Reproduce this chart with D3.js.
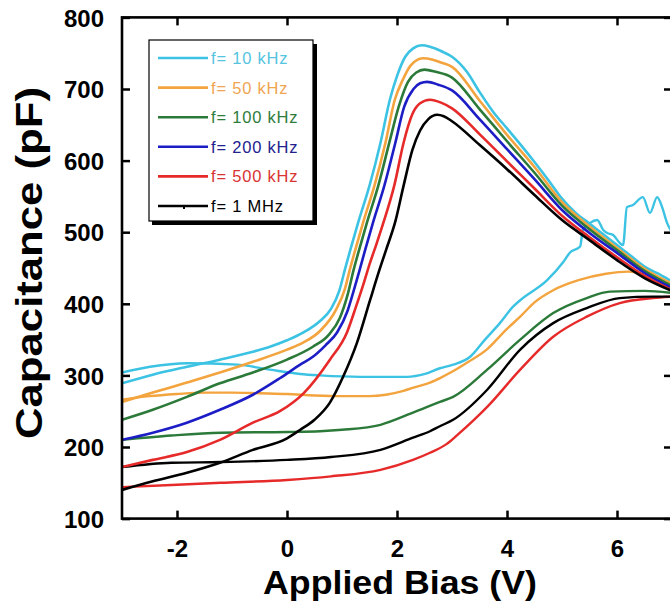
<!DOCTYPE html>
<html>
<head>
<meta charset="utf-8">
<script src="https://cdn.jsdelivr.net/npm/d3@7/dist/d3.min.js"></script>
<style>
  html, body { margin: 0; padding: 0; background: #ffffff; }
  svg { display: block; }
</style>
</head>
<body>
<script>
// C–V sweeps of the device at six measurement frequencies.
// Each frequency has a sweep that peaks near 2.5 V and a return sweep without the peak.
const frequencies = ["f= 10 kHz", "f= 50 kHz", "f= 100 kHz", "f= 200 kHz", "f= 500 kHz", "f= 1 MHz"];
const lineColors  = ["#3cc3e3", "#f3a43e", "#2b7a39", "#1d1dc6", "#e62a2a", "#000000"];
const labelColors = ["#55c4df", "#f0a552", "#2e7c3c", "#22228e", "#d83434", "#000000"];

const xTicks = [-2, 0, 2, 4, 6];
const yTicks = [100, 200, 300, 400, 500, 600, 700, 800];

// bias (V), capacitance (pF)
const peak10k = [[-3,289],[-2.44,301],[-1.82,312],[-1.22,322],[-0.62,333],[-0.31,340],[0,349],[0.3,360],[0.6,376],[0.8,393],[0.95,418],[1.05,447],[1.15,475],[1.3,515],[1.5,565],[1.7,625],[1.87,685],[2.0,718],[2.15,745],[2.3,757],[2.45,761],[2.6,759],[2.8,753],[3.0,745],[3.27,724],[3.5,696],[3.75,668],[4.0,645],[4.25,622],[4.5,598],[4.75,573],[5.0,547],[5.25,527],[5.5,512],[5.75,497],[6.0,482],[6.25,467],[6.5,452],[6.75,442],[7.0,431]];
const peak50k = [[-3,263],[-2.44,276],[-1.82,290],[-1.22,304],[-0.62,319],[0,336],[0.3,346],[0.6,362],[0.9,393],[1.05,420],[1.14,447],[1.24,475],[1.39,515],[1.59,565],[1.79,625],[1.96,685],[2.1,712],[2.25,733],[2.47,743],[2.65,741],[2.8,737],[3.0,731],[3.5,684],[4.0,636],[4.5,591],[5.0,542],[5.5,508],[6.0,478],[6.5,449],[7.0,428]];
const peak100k = [[-3,238],[-2.44,252],[-1.82,270],[-1.22,289],[-0.62,304],[0,322],[0.47,340],[0.75,356],[0.96,380],[1.1,412],[1.21,447],[1.31,475],[1.46,515],[1.66,565],[1.86,625],[2.03,675],[2.2,710],[2.35,723],[2.5,727],[2.7,724],[3.0,716],[3.5,672],[4.0,627],[4.5,583],[5.0,537],[5.5,504],[6.0,475],[6.5,446],[7.0,425]];
const peak200k = [[-3,210],[-2.44,220],[-1.82,234],[-1.22,252],[-0.62,273],[-0.13,296],[0.24,315],[0.47,326],[0.7,342],[0.91,360],[1.1,390],[1.2,415],[1.32,447],[1.42,475],[1.57,515],[1.77,565],[1.97,625],[2.13,675],[2.3,700],[2.42,708],[2.55,710],[2.75,706],[3.0,698],[3.5,658],[4.0,616],[4.5,574],[5.0,531],[5.5,499],[6.0,471],[6.5,443],[7.0,422]];
const peak500k = [[-3,172],[-2.44,182],[-1.82,193],[-1.22,210],[-0.62,234],[-0.13,250],[0.3,275],[0.78,322],[1.09,360],[1.25,395],[1.4,430],[1.5,455],[1.62,482],[1.76,515],[1.95,565],[2.12,625],[2.28,665],[2.42,680],[2.6,685],[2.8,681],[3.0,673],[3.5,637],[4.0,599],[4.5,561],[5.0,523],[5.5,493],[6.0,465],[6.5,439],[7.0,419]];
const peak1M = [[-3,140],[-2.44,152],[-1.82,164],[-1.22,178],[-0.62,196],[0,212],[0.24,224],[0.5,238],[0.78,262],[1.02,298],[1.27,345],[1.51,405],[1.65,440],[1.8,475],[1.97,515],[2.12,565],[2.28,615],[2.42,642],[2.57,658],[2.73,664],[2.85,662],[3.0,655],[3.5,622],[4.0,588],[4.5,552],[5.0,517],[5.5,489],[6.0,461],[6.5,436],[7.0,418]];

const return10k = [[-3,304],[-2.49,312],[-1.82,317],[-0.91,315],[-0.31,308],[0.24,302],[0.6,300],[1.33,298],[2.18,298],[2.51,302],[2.78,310],[3.02,315],[3.33,326],[3.6,350],[3.87,373],[4.11,396],[4.24,405],[4.73,433],[5.02,458],[5.15,472],[5.33,480],[5.38,503],[5.51,513],[5.64,517],[5.75,503],[5.82,499],[5.93,496],[6.05,485],[6.11,482],[6.18,535],[6.29,538],[6.47,549],[6.6,527],[6.73,549],[6.82,535],[6.91,513],[7.0,500]];
const return50k = [[-3,266],[-2.5,271],[-2,274],[-1.5,276],[-1,276],[-0.5,275],[0,274],[0.5,272],[1,271],[1.5,271],[1.8,273],[2.1,278],[2.3,283],[2.6,290],[2.8,297],[3.0,305],[3.3,319],[3.63,336],[4.0,365],[4.24,382],[4.5,402],[4.84,419],[5.3,433],[5.8,442],[6.2,445],[6.5,441],[6.75,433],[7.0,420]];
const return100k = [[-3,210],[-2.1,216],[-1.2,220],[0,221],[0.6,222],[1.0,224],[1.7,231],[2.29,248],[2.78,263],[3.02,270],[3.64,308],[4.24,350],[4.84,387],[5.45,408],[5.87,417],[6.5,418],[7.0,415]];
const return500k = [[-3,144],[-2.1,147],[-1.2,150],[0,154],[0.8,159],[1.7,168],[2.29,182],[2.6,192],[2.9,204],[3.1,217],[3.64,256],[4.24,308],[4.84,354],[5.45,382],[6.05,401],[6.65,408],[7.0,410]];
const return1M = [[-3,172],[-2.1,178],[-1.2,179],[0,182],[0.8,186],[1.7,196],[2.29,213],[2.6,222],[2.78,229],[3.02,238],[3.64,280],[4.24,336],[4.84,373],[5.45,394],[6.05,408],[6.65,410],[7.0,410]];

const peakSweeps   = [peak10k, peak50k, peak100k, peak200k, peak500k, peak1M];
const returnSweeps = [return10k, return50k, return100k, null, return500k, return1M];

const W = 670, H = 605;
const svg = d3.select("body").append("svg").attr("width", W).attr("height", H);

const x = d3.scaleLinear().domain([-3, 7]).range([122, 672]);
const y = d3.scaleLinear().domain([100, 800]).range([518.6, 17.4]);

const line = d3.line()
  .x(d => x(d[0]))
  .y(d => y(d[1]))
  .curve(d3.curveMonotoneX);

const plot = svg.append("g");
plot.append("clipPath").attr("id", "plotArea")
  .append("rect").attr("x", 122).attr("y", 17).attr("width", 550).attr("height", 502);

const curves = plot.append("g").attr("clip-path", "url(#plotArea)");
// return sweeps underneath, peaked sweeps on top
returnSweeps.forEach((s, i) => {
  if (!s) return;
  curves.append("path").datum(s)
    .attr("d", line).attr("fill", "none")
    .attr("stroke", lineColors[i]).attr("stroke-width", 2.4)
    .attr("stroke-linejoin", "round");
});
peakSweeps.forEach((s, i) => {
  curves.append("path").datum(s)
    .attr("d", line).attr("fill", "none")
    .attr("stroke", lineColors[i]).attr("stroke-width", 2.6)
    .attr("stroke-linejoin", "round");
});

// frame: ticks point inward on all four sides
const tickLen = 8;
const axisStyle = g => {
  g.select(".domain").remove();
  g.selectAll(".tick line").attr("stroke", "#000").attr("stroke-width", 2.5);
};
const boldLabel = "font-family: 'Liberation Sans', Arial, sans-serif; font-weight: bold;";
const plainNumber = d => String(d);

svg.append("g").attr("transform", `translate(0,${y(100)})`)
  .call(d3.axisBottom(x).tickValues(xTicks).tickSize(-tickLen).tickFormat(plainNumber))
  .call(axisStyle)
  .call(g => g.selectAll(".tick text").attr("style", boldLabel).attr("font-size", 24).attr("fill", "#000").attr("dy", null).attr("y", 38));

svg.append("g").attr("transform", `translate(0,${y(800)})`)
  .call(d3.axisTop(x).tickValues(xTicks).tickSize(-tickLen).tickFormat(""))
  .call(axisStyle);

svg.append("g").attr("transform", `translate(${x(-3)},0)`)
  .call(d3.axisLeft(y).tickValues(yTicks).tickSize(-tickLen).tickPadding(18).tickFormat(plainNumber))
  .call(axisStyle)
  .call(g => g.selectAll(".tick text").attr("style", boldLabel).attr("font-size", 24).attr("fill", "#000").attr("dy", "0.36em"));

svg.append("g").attr("transform", `translate(${x(7)},0)`)
  .call(d3.axisRight(y).tickValues(yTicks).tickSize(-tickLen).tickFormat(""))
  .call(axisStyle);

svg.append("rect")
  .attr("x", x(-3)).attr("y", y(800))
  .attr("width", x(7) - x(-3)).attr("height", y(100) - y(800))
  .attr("fill", "none").attr("stroke", "#000").attr("stroke-width", 2.6);

// axis titles
svg.append("text")
  .attr("x", 400).attr("y", 594)
  .attr("text-anchor", "middle")
  .attr("style", boldLabel).attr("font-size", 33).attr("fill", "#000")
  .attr("textLength", 274).attr("lengthAdjust", "spacingAndGlyphs")
  .text("Applied Bias (V)");

svg.append("text")
  .attr("transform", "translate(42,263) rotate(-90)")
  .attr("text-anchor", "middle")
  .attr("style", boldLabel).attr("font-size", 36).attr("fill", "#000")
  .attr("textLength", 352).attr("lengthAdjust", "spacingAndGlyphs")
  .text("Capacitance (pF)");

// legend with drop shadow
const legend = svg.append("g");
legend.append("rect").attr("x", 152).attr("y", 44).attr("width", 165).attr("height", 181).attr("fill", "#000");
legend.append("rect").attr("x", 149).attr("y", 40).attr("width", 164).attr("height", 181)
  .attr("fill", "#fff").attr("stroke", "#000").attr("stroke-width", 1.2);

const rowY = d3.scaleLinear().domain([0, frequencies.length - 1]).range([58, 206]);
frequencies.forEach((label, i) => {
  const ry = rowY(i);
  legend.append("line").attr("x1", 158).attr("x2", 208).attr("y1", ry).attr("y2", ry)
    .attr("stroke", lineColors[i]).attr("stroke-width", 2.6);
  legend.append("text").attr("x", 211).attr("y", ry).attr("dy", "0.36em")
    .attr("font-family", "'Liberation Sans', Arial, sans-serif").attr("font-size", 16.5)
    .attr("letter-spacing", 0.8)
    .attr("fill", labelColors[i]).text(label);
});
// small marker on the 1 MHz legend line
legend.append("line").attr("x1", 184).attr("x2", 184).attr("y1", rowY(5)).attr("y2", rowY(5) + 3)
  .attr("stroke", "#000").attr("stroke-width", 2);
</script>
</body>
</html>
